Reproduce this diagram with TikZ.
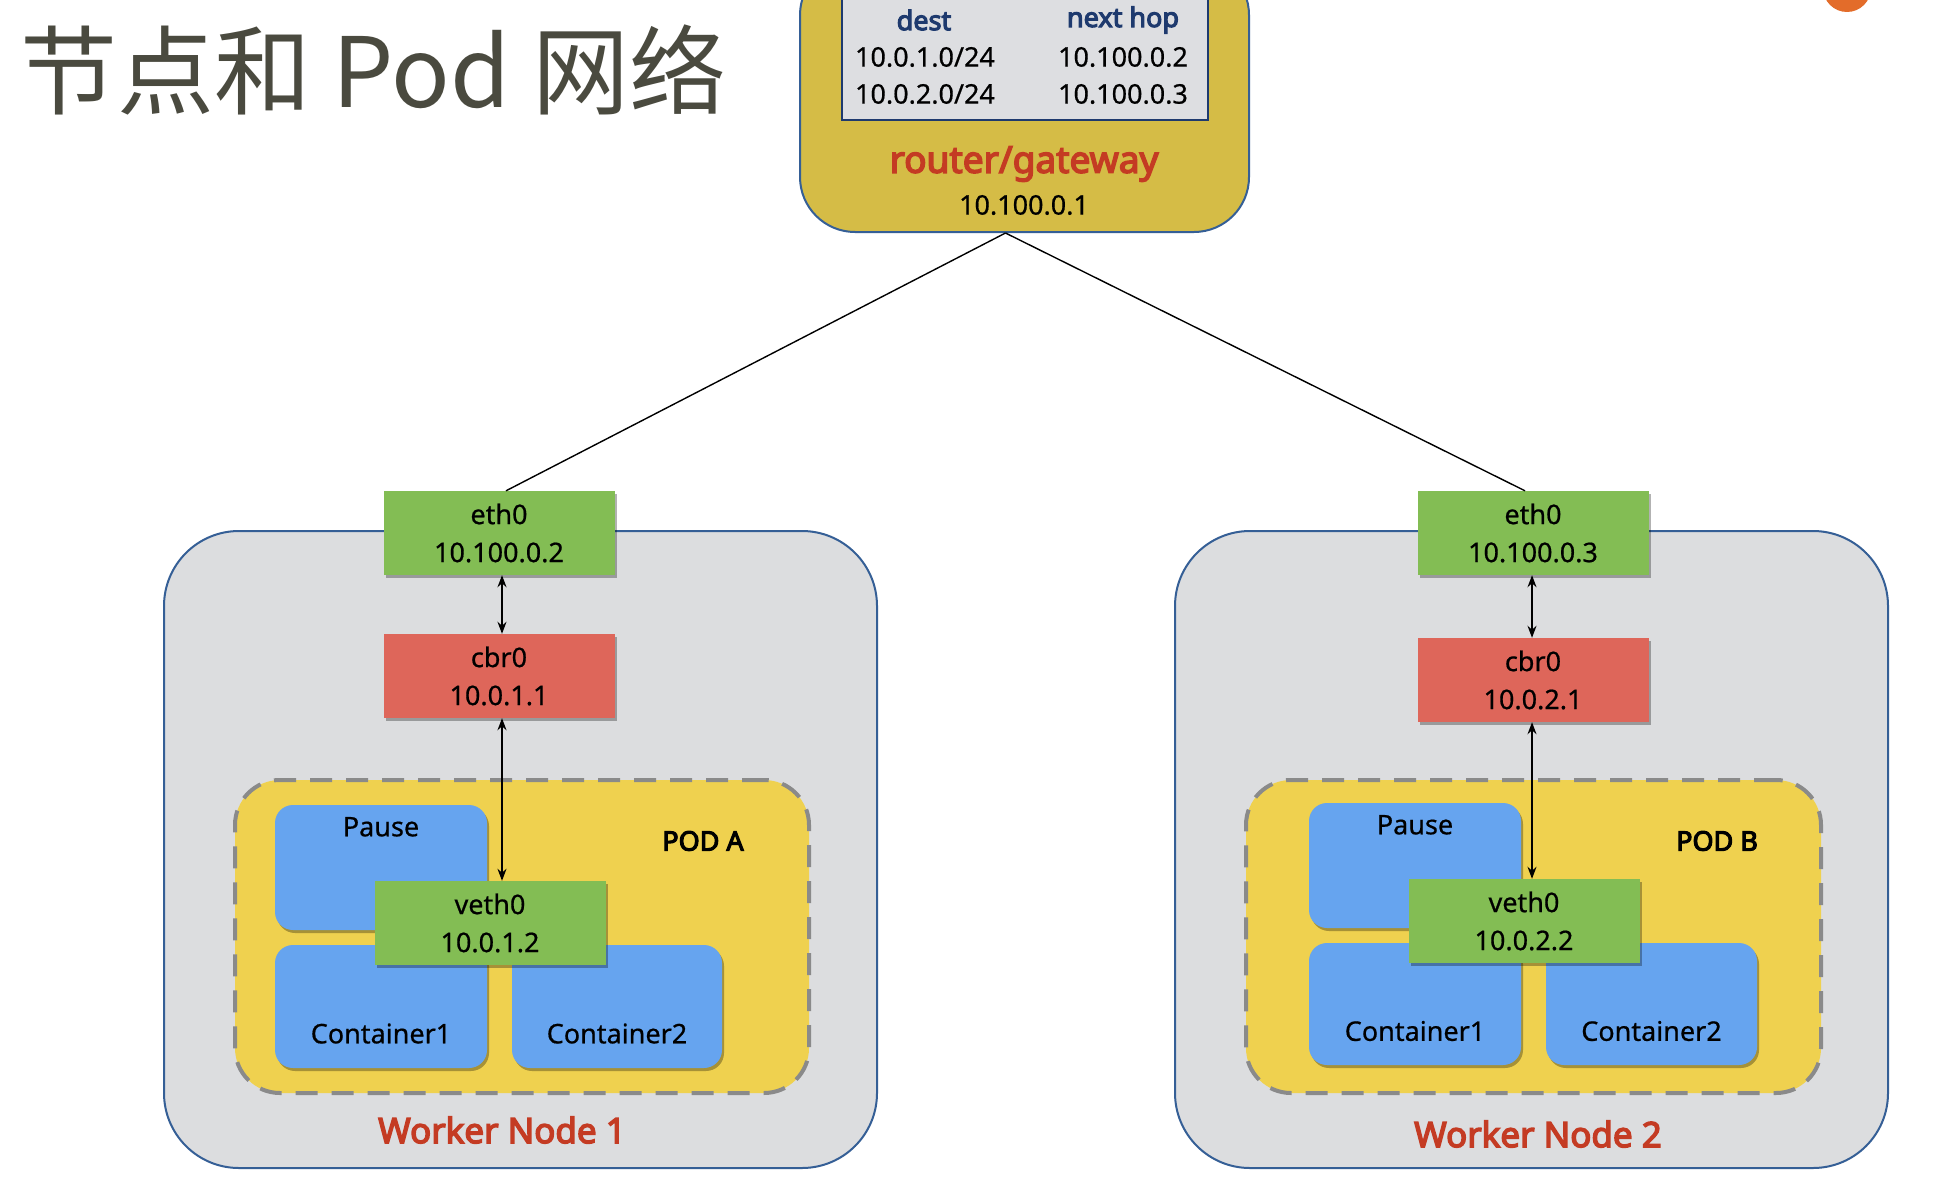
\documentclass[tikz,border=0pt]{standalone}
\usepackage{fontspec}
\setmainfont{Noto Sans}[FakeBold=0.6]
\newfontfamily\boldsans{Noto Sans}[FakeBold=4]
\newfontfamily\cjk{Noto Sans CJK SC}
\usetikzlibrary{shadows,arrows.meta}
\definecolor{routerfill}{HTML}{D5BC46}
\definecolor{tablefill}{HTML}{DDDEE1}
\definecolor{navy}{HTML}{1E3A6E}
\definecolor{redtxt}{HTML}{C43B23}
\definecolor{nodefill}{HTML}{DCDDDF}
\definecolor{nodeborder}{HTML}{355F96}
\definecolor{greenbox}{HTML}{83BD54}
\definecolor{redbox}{HTML}{DE665A}
\definecolor{podfill}{HTML}{EFD14F}
\definecolor{dashgray}{HTML}{8A8A8A}
\definecolor{bluebox}{HTML}{66A4EF}
\definecolor{titlecol}{HTML}{4A4A3F}
\definecolor{orangedot}{HTML}{E36C2A}
\tikzset{
  txt/.style={font=\bfseries\fontsize{27}{38}\selectfont, align=center, inner sep=0pt, text=black},
  btxt/.style={font=\boldsans\fontsize{27}{38}\selectfont, inner sep=0pt},
  lbl/.style={font=\boldsans\fontsize{35}{38}\selectfont, inner sep=0pt, text=redtxt},
  softshadow/.style={drop shadow={shadow xshift=2pt, shadow yshift=-3pt, opacity=0.3, fill=black}},
  ifbox/.style={rectangle, minimum width=231pt, minimum height=84pt, inner sep=0pt,
    font=\bfseries\fontsize{27}{38}\selectfont, align=center, softshadow},
  greenif/.style={ifbox, fill=greenbox},
  redif/.style={ifbox, fill=redbox},
  workerbox/.style={rectangle, rounded corners=75pt, fill=nodefill, draw=nodeborder, line width=2pt},
  podbox/.style={rectangle, rounded corners=45pt, fill=podfill, draw=dashgray, line width=4pt,
    dash pattern=on 22pt off 14pt},
  ctbox/.style={rectangle, rounded corners=18pt, fill=bluebox, minimum width=212pt, inner sep=0pt, softshadow},
  link/.style={line width=1.4pt, black},
  dlink/.style={line width=1.5pt, {Stealth[length=12pt,width=9pt]}-{Stealth[length=12pt,width=9pt]}},
}
\begin{document}
\begin{tikzpicture}[x=1pt,y=-1pt]
\useasboundingbox (0,0) rectangle (1958,1188);
\clip (0,0) rectangle (1958,1188);
\fill[white] (0,0) rectangle (1958,1188);

% title
\node[anchor=west, text=titlecol, font=\cjk\fontsize{97}{100}\selectfont, inner sep=0pt] (title) at (20,70) {节点和 Pod 网络};
\fill[orangedot] (1847,-12) circle (24pt);

% router
\node[rectangle, rounded corners=55pt, fill=routerfill, draw=nodeborder, line width=2pt,
  minimum width=449pt, minimum height=272pt] (router) at (1024.5,96) {};
\node[rectangle, fill=tablefill, draw=navy, line width=2pt, minimum width=366pt, minimum height=140pt] (table) at (1025,50) {};
\node[btxt, text=navy] (hdest) at (924,20) {dest};
\node[btxt, text=navy] (hnext) at (1123,20) {next hop};
\node[txt] (r1a) at (925,57) {10.0.1.0/24};
\node[txt] (r1b) at (1123,57) {10.100.0.2};
\node[txt] (r2a) at (925,94) {10.0.2.0/24};
\node[txt] (r2b) at (1123,94) {10.100.0.3};
\node[font=\boldsans\fontsize{37}{38}\selectfont, text=redtxt, inner sep=0pt] (rgw) at (1024,164) {router/gateway};
\node[txt] (rip) at (1024,205) {10.100.0.1};

% worker node 1
\node[workerbox, minimum width=713pt, minimum height=637pt] (w1) at (520.5,849.5) {};
\node[podbox, minimum width=574pt, minimum height=313pt] (podA) at (522,936.5) {};
\node[ctbox, minimum height=125pt] (pauseA) at (381,867.5) {};
\node[ctbox, minimum height=123pt] (c1A) at (381,1006.5) {};
\node[ctbox, minimum height=123pt, minimum width=210pt] (c2A) at (617,1006.5) {};
\node[txt] (pauseAt) at ([yshift=-22pt]pauseA.north) {Pause};
\node[txt] (c1At) at ([yshift=-27pt]c1A.center) {Container1};
\node[txt] (c2At) at ([yshift=-27pt]c2A.center) {Container2};
\node[greenif] (vethA) at (490,923) {veth0\\10.0.1.2};
\node[btxt] (podAt) at (703,841) {POD A};
\node[greenif] (ethA) at (499,533) {eth0\\10.100.0.2};
\node[redif] (cbrA) at (499,676) {cbr0\\10.0.1.1};
\node[lbl] (w1t) at (502,1130) {Worker Node 1};
\draw[dlink] ([xshift=3pt]ethA.south) -- ([xshift=3pt]cbrA.north);
\draw[dlink] ([xshift=3pt]cbrA.south) -- ([xshift=3pt]cbrA.south |- vethA.north);

% worker node 2
\node[workerbox, minimum width=713pt, minimum height=637pt] (w2) at (1531.5,849.5) {};
\node[podbox, minimum width=575pt, minimum height=313pt] (podB) at (1533.5,936.5) {};
\node[ctbox, minimum height=125pt] (pauseB) at (1415,865.5) {};
\node[ctbox, minimum height=122pt] (c1B) at (1415,1004) {};
\node[ctbox, minimum height=122pt, minimum width=211pt] (c2B) at (1651.5,1004) {};
\node[txt] (pauseBt) at ([yshift=-22pt]pauseB.north) {Pause};
\node[txt] (c1Bt) at ([yshift=-27pt]c1B.center) {Container1};
\node[txt] (c2Bt) at ([yshift=-27pt]c2B.center) {Container2};
\node[greenif] (vethB) at (1524,921) {veth0\\10.0.2.2};
\node[btxt] (podBt) at (1717,841) {POD B};
\node[greenif] (ethB) at (1533,533) {eth0\\10.100.0.3};
\node[redif] (cbrB) at (1533,680) {cbr0\\10.0.2.1};
\node[lbl] (w2t) at (1538,1134) {Worker Node 2};
\draw[dlink] ([xshift=-1pt]ethB.south) -- ([xshift=-1pt]cbrB.north);
\draw[dlink] ([xshift=-1pt]cbrB.south) -- ([xshift=-1pt]cbrB.south |- vethB.north);

% router links
\draw[link] ([xshift=-19pt]router.south) -- ([xshift=7pt]ethA.north);
\draw[link] ([xshift=-19pt]router.south) -- ([xshift=-8pt]ethB.north);
\end{tikzpicture}
\end{document}
